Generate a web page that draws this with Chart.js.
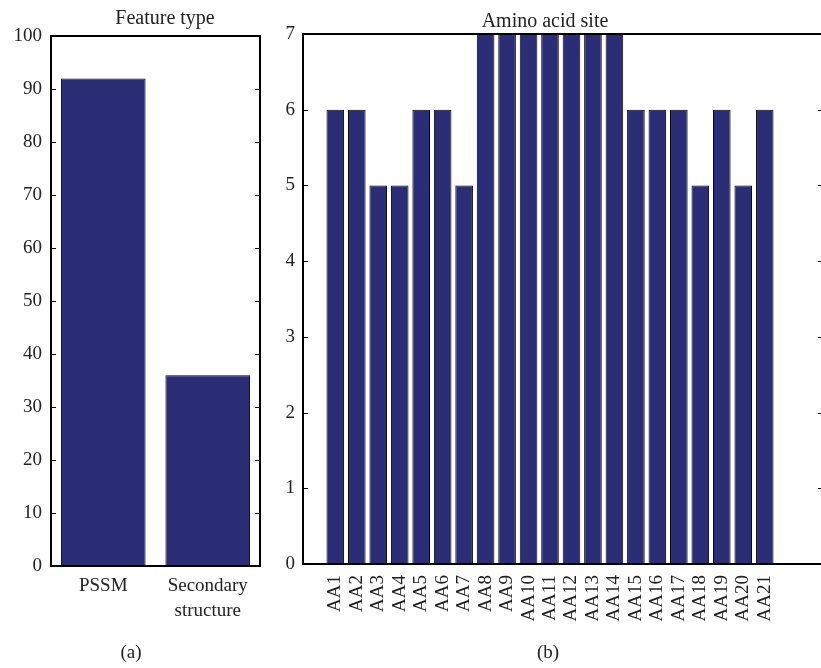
<!DOCTYPE html>
<html>
<head>
<meta charset="utf-8">
<script src="https://cdn.jsdelivr.net/npm/chart.js@4"></script>
<style>
  html, body { margin:0; padding:0; background:#fff; overflow:hidden; width:821px; height:668px; }
  .wrap { position:relative; width:821px; height:668px; overflow:hidden; }
  canvas { position:absolute; top:0; left:0; }
  .txt { position:absolute; font-family:"Liberation Serif", serif; font-size:19px; line-height:19px; color:#222; white-space:nowrap; transform:translateX(-50%); }
</style>
</head>
<body>
<div class="wrap">
  <canvas id="cA" width="280" height="668"></canvas>
  <canvas id="cB" width="900" height="668"></canvas>
  <div class="txt" style="left:165px; top:8px; font-size:20px;">Feature type</div>
  <div class="txt" style="left:545px; top:11px; font-size:20px;">Amino acid site</div>
  <div class="txt" style="left:131px; top:642px;">(a)</div>
  <div class="txt" style="left:548px; top:642px;">(b)</div>
</div>
<script>
// ---- data ----
const featureLabels = ['PSSM', ['Secondary', 'structure']];
const featureValues = [92, 36];
const aaLabels = ['AA1','AA2','AA3','AA4','AA5','AA6','AA7','AA8','AA9','AA10','AA11',
                  'AA12','AA13','AA14','AA15','AA16','AA17','AA18','AA19','AA20','AA21'];
const aaValues = [6, 6, 5, 5, 6, 6, 5, 7, 7, 7, 7, 7, 7, 7, 6, 6, 6, 5, 6, 5, 6];

const BAR_FILL = '#2b2e76';
const BAR_EDGE = '#000';
Chart.defaults.font.family = '"Liberation Serif", serif';
Chart.defaults.font.size = 19;
Chart.defaults.color = '#222';

const framePlugin = {
  id: 'frame',
  afterDatasetsDraw(chart) {
    const { ctx, chartArea: a } = chart;
    const ys = chart.scales.y;
    ctx.save();
    ctx.strokeStyle = '#000';
    ctx.lineWidth = 1;
    ys.ticks.forEach(t => {
      const p = Math.round(ys.getPixelForValue(t.value)) + 0.5;
      if (t.value === ys.min || t.value === ys.max) return;
      ctx.beginPath();
      ctx.moveTo(a.left, p); ctx.lineTo(a.left + 5, p);
      ctx.moveTo(a.right, p); ctx.lineTo(a.right - 5, p);
      ctx.stroke();
    });
    ctx.lineWidth = 2;
    ctx.strokeRect(a.left, a.top, a.right - a.left, a.bottom - a.top);
    ctx.restore();
  }
};

// ---- chart (a) ----
new Chart(document.getElementById('cA'), {
  type: 'bar',
  data: {
    labels: featureLabels,
    datasets: [{
      data: featureValues,
      backgroundColor: BAR_FILL,
      borderColor: BAR_EDGE,
      borderWidth: 1,
      barPercentage: 0.81,
      categoryPercentage: 1
    }]
  },
  options: {
    responsive: false,
    animation: false,
    devicePixelRatio: 1,
    layout: { padding: { top: 36, right: 20, bottom: 0, left: 0 } },
    plugins: { legend: { display: false }, tooltip: { enabled: false } },
    scales: {
      x: {
        grid: { display: false, drawTicks: false },
        border: { display: false },
        ticks: { padding: 8, maxRotation: 0, minRotation: 0, font: { size: 19, lineHeight: 1.3 } },
        afterFit(s) { s.height = 102; }
      },
      y: {
        min: 0, max: 100,
        grid: { display: false, drawTicks: false },
        border: { display: false },
        ticks: { stepSize: 10, padding: 9 },
        afterFit(s) { s.width = 51; }
      }
    }
  },
  plugins: [framePlugin]
});

// ---- chart (b) ----
new Chart(document.getElementById('cB'), {
  type: 'bar',
  data: {
    datasets: [{
      data: aaValues.map((v, i) => ({ x: i + 1, y: v })),
      backgroundColor: BAR_FILL,
      borderColor: BAR_EDGE,
      borderWidth: 1,
      barPercentage: 0.82,
      categoryPercentage: 1
    }]
  },
  options: {
    responsive: false,
    animation: false,
    devicePixelRatio: 1,
    layout: { padding: { top: 34, right: 77, bottom: 0, left: 0 } },
    plugins: { legend: { display: false }, tooltip: { enabled: false } },
    scales: {
      x: {
        type: 'linear',
        min: 0, max: 23.21,
        grid: { display: false, drawTicks: false },
        border: { display: false },
        ticks: {
          stepSize: 1, autoSkip: false, includeBounds: false,
          maxRotation: 90, minRotation: 90, padding: 11,
          callback: (v) => (Number.isInteger(v) && v >= 1 && v <= aaLabels.length) ? aaLabels[v - 1] : ''
        },
        afterFit(s) { s.height = 104; }
      },
      y: {
        min: 0, max: 7,
        grid: { display: false, drawTicks: false },
        border: { display: false },
        ticks: { stepSize: 1, padding: 8 },
        afterFit(s) { s.width = 303; }
      }
    }
  },
  plugins: [framePlugin]
});
</script>
</body>
</html>
